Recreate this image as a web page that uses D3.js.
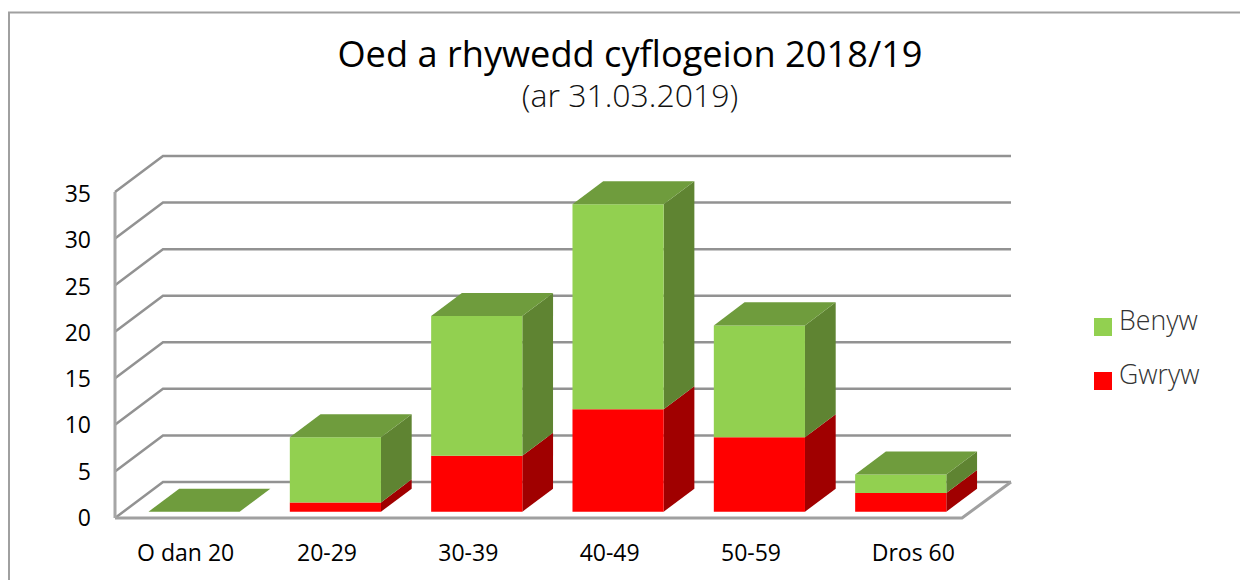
<!DOCTYPE html>
<html>
<head>
<meta charset="utf-8">
<script src="https://cdnjs.cloudflare.com/ajax/libs/d3/7.8.5/d3.min.js"></script>
<style>
    html, body { margin: 0; padding: 0; background: #fff; overflow: hidden; }
    text { font-family: "Open Sans", sans-serif; }
</style>
</head>
<body>
<div id="graph"></div>
<script>
// Values
var categories = ["O dan 20", "20-29", "30-39", "40-49", "50-59", "Dros 60"];
var gwryw = [0, 1, 6, 11, 8, 2];
var benyw = [0, 7, 15, 22, 12, 2];
var yTicks = [0, 5, 10, 15, 20, 25, 30, 35];
var titleText = "Oed a rhywedd cyflogeion 2018/19";
var subtitleText = "(ar 31.03.2019)";
var legendNames = ["Benyw", "Gwryw"];

var svg = d3.select("#graph").append("svg")
            .attr("width", 1240)
            .attr("height", 580);

// Outer frame, open at the bottom
svg.append("path")
   .attr("d", "M9,580V12.5H1240")
   .attr("fill", "none")
   .attr("stroke", "#a0a0a0")
   .attr("stroke-width", 2);

// Set the ranges
var x = d3.scaleBand()
          .domain(categories)
          .range([115, 963])
          .paddingInner(0.355)
          .paddingOuter(0.1775);
var y = d3.scaleLinear()
          .domain([0, 35])
          .range([518, 192]);
// Baselines of the tick labels
var yLabel = d3.scaleLinear()
               .domain([0, 35])
               .range([526, 202]);

// Depth of the floor, the bars sit part way into it
var depth = {dx: 48, dy: -36, barFront: 0.175, barBack: 0.815};

function project(px, value, d) {
    return [px + depth.dx * d, y(value) + depth.dy * d];
}

var line = d3.line();

// Back wall gridlines and the slanted side wall
var grid = svg.append("g").attr("fill", "none");
yTicks.forEach(function(t) {
    grid.append("path")
        .attr("d", line([project(115, t, 0), project(115, t, 1), project(963, t, 1)]))
        .attr("stroke", "#929292")
        .attr("stroke-width", 2.5);
});

// Floor front and right edge
grid.append("path")
    .attr("d", line([project(115, 0, 0), project(962, 0, 0), project(963, 0, 1)]))
    .attr("stroke", "#a0a0a0")
    .attr("stroke-width", 3);
// Left axis line
grid.append("path")
    .attr("d", line([[115, y(0)], [115, y(35)]]))
    .attr("stroke", "#a6a6a6")
    .attr("stroke-width", 3);

// Y tick labels
svg.append("g").selectAll("text")
   .data(yTicks)
   .enter().append("text")
   .attr("x", 91)
   .attr("y", function(d) { return yLabel(d); })
   .attr("text-anchor", "end")
   .attr("font-size", 23)
   .attr("fill", "#000")
   .text(function(d) { return d; });

// X labels, the last one sits further right in the original
svg.append("g").selectAll("text")
   .data(categories)
   .enter().append("text")
   .attr("x", function(d) { return x(d) + x.bandwidth() / 2 + (d === "Dros 60" ? 21 : 0); })
   .attr("y", 561)
   .attr("text-anchor", "middle")
   .attr("font-size", 23)
   .attr("fill", "#000")
   .text(function(d) { return d; });

// Draw one box segment of a stacked bar
function drawBox(g, name, v0, v1, front, side) {
    var x0 = x(name), x1 = x0 + x.bandwidth();
    var f = depth.barFront, b = depth.barBack;
    if (v1 > v0) {
        g.append("path")
         .attr("d", line([project(x1, v0, f), project(x1, v0, b), project(x1, v1, b), project(x1, v1, f)]) + "Z")
         .attr("fill", side);
        g.append("path")
         .attr("d", line([project(x0, v0, f), project(x1, v0, f), project(x1, v1, f), project(x0, v1, f)]) + "Z")
         .attr("fill", front);
    }
}

var bars = svg.append("g");
categories.forEach(function(name, i) {
    var g = bars.append("g");
    var total = gwryw[i] + benyw[i];
    var x0 = x(name), x1 = x0 + x.bandwidth();
    drawBox(g, name, 0, gwryw[i], "#ff0000", "#a00000");
    drawBox(g, name, gwryw[i], total, "#92d050", "#5f8432");
    g.append("path")
     .attr("d", line([project(x0, total, depth.barFront), project(x1, total, depth.barFront),
                      project(x1, total, depth.barBack), project(x0, total, depth.barBack)]) + "Z")
     .attr("fill", "#6f9c3d");
});

// Title
svg.append("text")
   .attr("x", 630).attr("y", 67)
   .attr("text-anchor", "middle")
   .attr("font-size", 36.2)
   .attr("fill", "#000")
   .text(titleText);
svg.append("text")
   .attr("x", 630).attr("y", 107)
   .attr("text-anchor", "middle")
   .attr("font-size", 32)
   .attr("font-weight", 300)
   .attr("fill", "#111")
   .text(subtitleText);

// Legend
var legendColor = d3.scaleOrdinal().domain(legendNames).range(["#92d050", "#ff0000"]);
var legendY = d3.scalePoint().domain(legendNames).range([318, 372]);
var legend = svg.append("g").selectAll("g")
                .data(legendNames)
                .enter().append("g");
legend.append("rect")
      .attr("x", 1094)
      .attr("y", function(d) { return legendY(d); })
      .attr("width", 18).attr("height", 18)
      .attr("fill", function(d) { return legendColor(d); });
legend.append("text")
      .attr("x", 1119)
      .attr("y", function(d) { return legendY(d) + 12; })
      .attr("font-size", 26.7)
      .attr("font-weight", 300)
      .attr("fill", "#333")
      .text(function(d) { return d; });
</script>
</body>
</html>
